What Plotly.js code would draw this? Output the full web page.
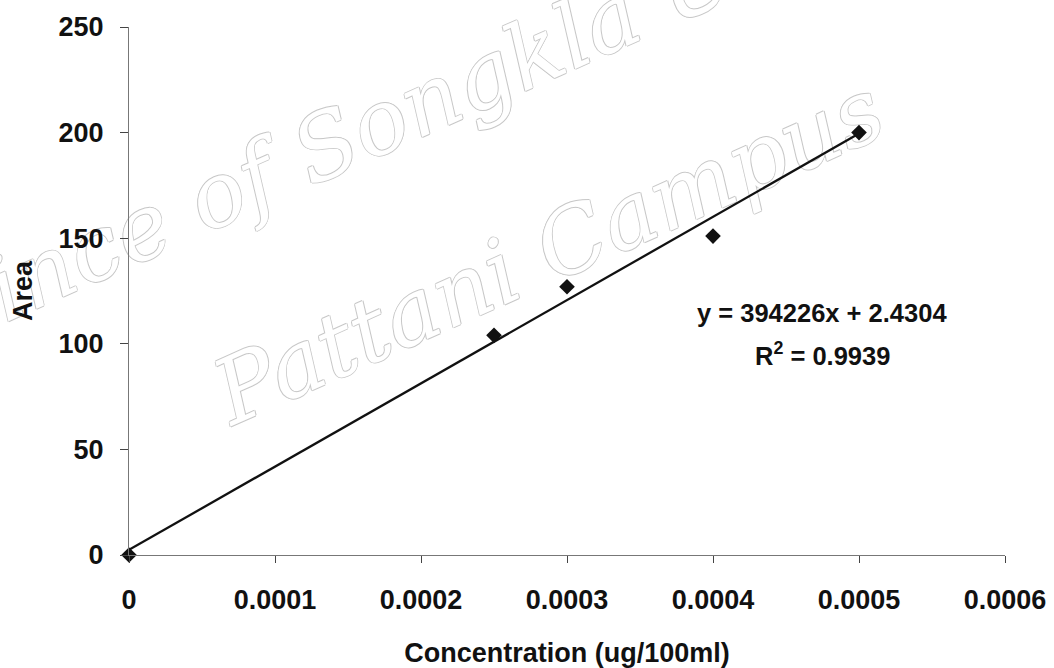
<!DOCTYPE html>
<html>
<head>
<meta charset="utf-8">
<script src="https://cdn.plot.ly/plotly-3.0.1.min.js"></script>
<style>
  html, body { margin: 0; padding: 0; background: #ffffff; }
  #chart { width: 1054px; height: 668px; }
</style>
</head>
<body>
<div id="chart"></div>
<script>
// ---- data ----
const concentration = [0, 0.00025, 0.0003, 0.0004, 0.0005];
const area = [0, 104, 127, 151, 200];

// linear trendline as printed on the chart
const trendSlope = 394226;
const trendIntercept = 2.4304;
const trendX = [0, 0.0005];
const equationText = "y = 394226x + 2.4304";
const r2Text = "R<sup>2</sup> = 0.9939";

const xTickVals = [0, 0.0001, 0.0002, 0.0003, 0.0004, 0.0005, 0.0006];
const xTickText = ["0", "0.0001", "0.0002", "0.0003", "0.0004", "0.0005", "0.0006"];
const yTickVals = [0, 50, 100, 150, 200, 250];
const yTickText = ["0", "50", "100", "150", "200", "250"];

const xTitle = "Concentration (ug/100ml)";
const yTitle = "Area";
const watermark1 = "Prince of Songkla University";
const watermark2 = "Pattani Campus";

// ---- drawing ----
const FONT = "Liberation Sans, Arial, Helvetica, sans-serif";
const trendY = trendX.map(x => trendSlope * x + trendIntercept);

const traces = [
  {
    x: trendX, y: trendY, type: "scatter", mode: "lines",
    line: { color: "#111111", width: 2.3 },
    hoverinfo: "skip", showlegend: false
  },
  {
    x: concentration, y: area, type: "scatter", mode: "markers",
    marker: { symbol: "diamond", size: 12, color: "#111111" },
    cliponaxis: false, showlegend: false
  }
];

const OUT = "#c8c8c8";
const wmFont = {
  family: "DejaVu Serif, serif", size: 90, style: "italic", color: "#ffffff",
  shadow: `1px 0 0 ${OUT}, -1px 0 0 ${OUT}, 0 1px 0 ${OUT}, 0 -1px 0 ${OUT}`
};

function wmShape(cx, cy, text) {
  return {
    type: "line", xref: "paper", yref: "paper", layer: "below",
    x0: cx - 0.01, x1: cx + 0.01, y0: cy, y1: cy,
    line: { width: 0, color: "rgba(0,0,0,0)" },
    label: { text: text, textposition: "middle", textangle: -24,
             xanchor: "center", yanchor: "middle", font: wmFont, padding: 0 }
  };
}

const layout = {
  width: 1054, height: 668,
  margin: { l: 129, r: 49, t: 27, b: 113 },
  paper_bgcolor: "#ffffff", plot_bgcolor: "rgba(0,0,0,0)",
  showlegend: false,
  font: { family: FONT, color: "#111111" },
  xaxis: {
    range: [0, 0.0006], tickmode: "array", tickvals: xTickVals, ticktext: xTickText,
    showline: true, linecolor: "#777777", linewidth: 1,
    ticks: "outside", ticklen: 7, tickcolor: "#444444", tickwidth: 1,
    showgrid: false, zeroline: false,
    tickfont: { family: FONT, size: 27, weight: "bold", color: "#111111" },
    ticklabelstandoff: 14,
    title: { text: xTitle, font: { family: FONT, size: 27, weight: "bold", color: "#111111" }, standoff: 34 }
  },
  yaxis: {
    range: [0, 250], tickmode: "array", tickvals: yTickVals, ticktext: yTickText,
    showline: true, linecolor: "#777777", linewidth: 1,
    ticks: "outside", ticklen: 8, tickcolor: "#444444", tickwidth: 1,
    showgrid: false, zeroline: false,
    tickfont: { family: FONT, size: 27, weight: "bold", color: "#111111" },
    ticklabelstandoff: 11,
    title: { text: yTitle, font: { family: FONT, size: 27, weight: "bold", color: "#111111" }, standoff: 18 }
  },
  shapes: [
    wmShape(0.414, 0.928, watermark1),
    wmShape(0.476, 0.587, watermark2)
  ],
  annotations: [
    { xref: "x", yref: "y", x: 0.0004747, y: 114.6, xanchor: "center", yanchor: "middle",
      text: equationText, showarrow: false,
      font: { family: FONT, size: 25.5, weight: "bold", color: "#111111" } },
    { xref: "x", yref: "y", x: 0.0004747, y: 95.0, xanchor: "center", yanchor: "middle",
      text: r2Text, showarrow: false,
      font: { family: FONT, size: 25.5, weight: "bold", color: "#111111" } }
  ]
};

Plotly.newPlot("chart", traces, layout, { staticPlot: true, displayModeBar: false });
</script>
</body>
</html>
